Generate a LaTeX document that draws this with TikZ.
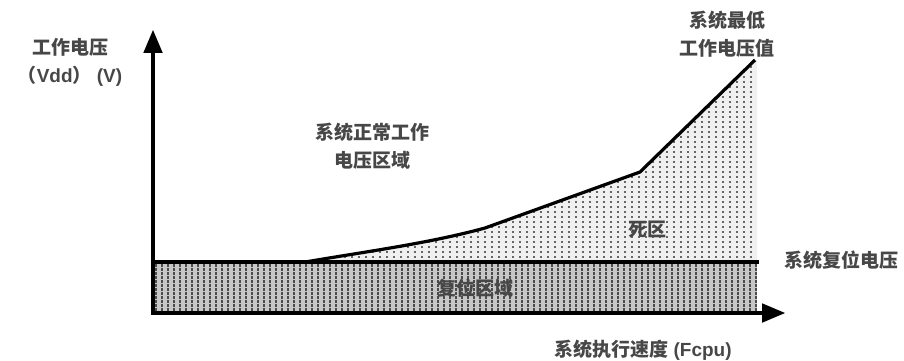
\documentclass[tikz,border=0pt]{standalone}
\usepackage{fontspec}
\setmainfont{Liberation Sans}
\newfontfamily\cjk{Noto Sans CJK SC}
\usetikzlibrary{arrows,positioning,calc}

\begin{document}
\begin{tikzpicture}[x=1pt,y=-1pt]
\tikzset{lab/.style={text=black!72,font=\fontsize{19}{28}\selectfont\bfseries,align=center,inner sep=0pt},
  axis/.style={line width=4.5pt,-triangle 45},
  dotline/.style={black!60,line width=1.2pt,dash pattern=on 1.8pt off 3.2pt}}
\useasboundingbox (0,0) rectangle (904,360);
\coordinate (origin) at (153,313);
\coordinate (ytip) at (153,30);
\coordinate (xtip) at (785,313);
\coordinate (cstart) at (305,262);
\coordinate (cmid) at (485,228);
\coordinate (cknee) at (640,172);
\coordinate (cend) at (755,60);
% reset region
\fill[black!22] (153,262) rectangle (757,313);
\foreach \x in {156,162,...,756}
  \draw[black!70,line width=1.4pt,dash pattern=on 2.5pt off 1.5pt] (\x,264) -- (\x,312);
% dead zone
\begin{scope}
  \clip (cstart) .. controls (370,251) and (430,243) .. (cmid) -- (cknee) -- (cend) -- (757,60) -- (757,262) -- cycle;
  \fill[black!6] (300,55) rectangle (760,265);
  \foreach \x in {303,310,...,757}
    \draw[dotline] (\x,56) -- (\x,262);
\end{scope}
\draw[line width=3.2pt,line join=round] (cstart) .. controls (370,251) and (430,243) .. (cmid) -- (cknee) -- (cend);
\draw[line width=4.5pt] (153,262) -- (759,262);
\draw[axis] (origin) -- (ytip);
\draw[axis] ($(origin)+(-2,0)$) -- (xtip);
\node[lab] (ylab) at (70,62) {{\cjk 工作电压}\\{\cjk （}Vdd{\cjk ）} (V)};
\node[lab] (minlab) at (727,34) {\cjk 系统最低\\\cjk 工作电压值};
\node[lab] (normlab) at (372,146) {\cjk 系统正常工作\\\cjk 电压区域};
\node[lab] (deadlab) at (647,230) {\cjk 死区};
\node[lab] (resetlab) at (841,260) {\cjk 系统复位电压};
\node[lab] (zonelab) at (475,288) {\cjk 复位区域};
\node[lab] (xlab) at (643,350) {{\cjk 系统执行速度} (Fcpu)};
\end{tikzpicture}
\end{document}
